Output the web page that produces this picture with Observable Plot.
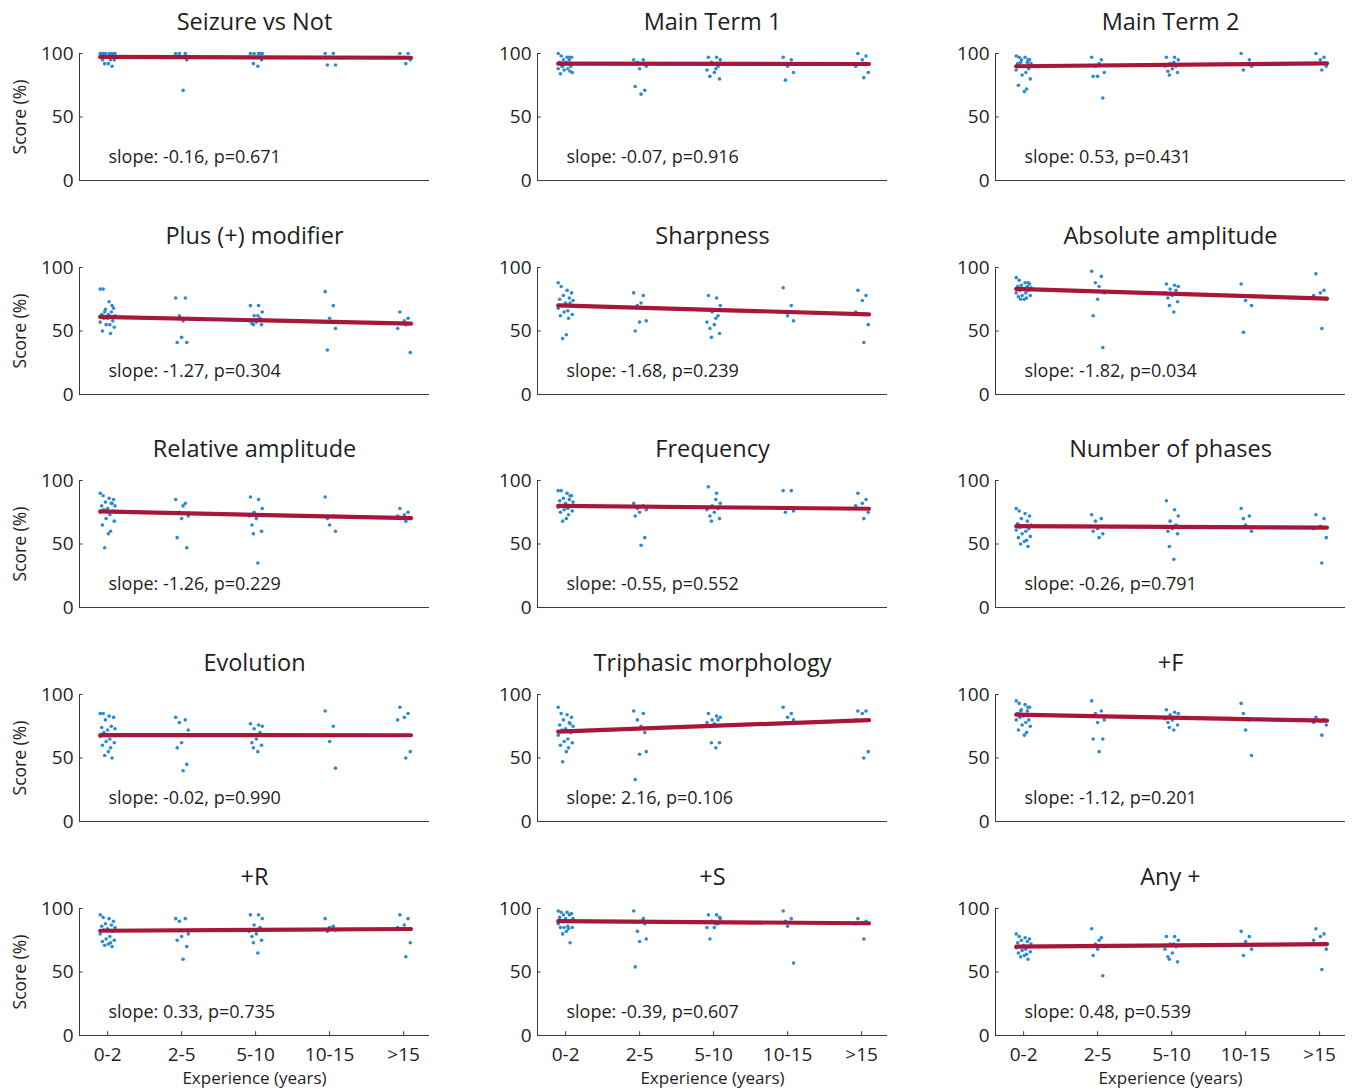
<!DOCTYPE html>
<html>
<head>
<meta charset="utf-8">
<script src="https://cdn.jsdelivr.net/npm/d3@7"></script>
<script src="https://cdn.jsdelivr.net/npm/@observablehq/plot@0.6"></script>
<style>
  html, body { margin: 0; padding: 0; background: #fff; }
  #chart { position: relative; width: 1352px; height: 1089px; overflow: hidden; font-family: "Open Sans", sans-serif; }
  .panel { position: absolute; }
</style>
</head>
<body>
<div id="chart"></div>
<script>
// ---- categories / labels ----
const categories = ["0-2", "2-5", "5-10", "10-15", ">15"];
const titles = ["Seizure vs Not", "Main Term 1", "Main Term 2",
  "Plus (+) modifier", "Sharpness", "Absolute amplitude",
  "Relative amplitude", "Frequency", "Number of phases",
  "Evolution", "Triphasic morphology", "+F",
  "+R", "+S", "Any +"];
const slopes = [-0.16, -0.07, 0.53, -1.27, -1.68, -1.82, -1.26, -0.55, -0.26, -0.02, 2.16, -1.12, 0.33, -0.39, 0.48];
const pvalues = ["0.671", "0.916", "0.431", "0.304", "0.239", "0.034", "0.229", "0.552", "0.791", "0.990", "0.106", "0.201", "0.735", "0.607", "0.539"];
// regression line value at the first category
const lineStart = [97.3, 92, 90, 61, 70, 83, 75.5, 80, 64, 68, 71, 84, 82.5, 90, 70];
const yTicks = [0, 50, 100];
const xTicks = [1, 2, 3, 4, 5];

// horizontal jitter of each observer within its experience group
const jitter1 = [-0.1, -0.06, 0.02, 0.08, -0.03, 0.05, -0.08, 0.1, 0, -0.05, 0.07, -0.1, 0.03, -0.02, 0.09, -0.07, 0.04, 0.01, -0.04, 0.06];
const jitter2 = [-0.08, 0.05, -0.03, 0.09, 0, -0.06, 0.07, 0.02];
const jitter3 = [-0.07, 0.04, 0.09, -0.02, 0.06, -0.09, 0.01, -0.05, 0.08, -0.03, 0.03];
const jitter4 = [-0.06, 0.05, 0, 0.08, -0.03];
const jitter5 = [-0.05, 0.06, 0.01, -0.08, 0.09, 0.03];
const jitters = [jitter1, jitter2, jitter3, jitter4, jitter5];

// ---- scores (%) per experience group ----
const seizureVsNot = [
  [100,100,100,100,100,100,100,100,97,97,97,97,97,97,95,95,95,92,92,90],
  [100,100,100,97,97,97,95,71],
  [100,100,100,100,100,97,97,97,95,92,90],
  [100,100,97,91,91],
  [100,100,97,97,95,92]];
const mainTerm1 = [
  [100,98,97,97,95,95,93,92,92,90,90,88,88,87,85,84,97,93,90,86],
  [95,95,93,90,88,74,71,68],
  [97,97,95,92,90,87,85,82,80,93,88],
  [97,95,90,85,79],
  [100,98,95,90,85,81]];
const mainTerm2 = [
  [98,97,97,95,95,93,92,92,90,90,88,87,85,83,80,75,72,70,93,95],
  [97,95,90,85,82,82,65,92],
  [97,97,95,92,90,90,88,86,85,83,93],
  [100,95,92,90,87],
  [100,97,95,92,90,87]];
const plusModifier = [
  [83,83,73,68,67,65,63,62,60,60,58,57,55,55,53,50,48,63,65,70],
  [76,76,62,60,45,41,41,58],
  [70,70,65,62,60,58,57,56,55,55,62],
  [81,70,60,52,35],
  [65,60,58,52,33,55]];
const sharpness = [
  [88,85,82,80,78,76,75,74,72,70,70,68,66,65,63,62,60,47,44,72],
  [80,78,70,58,57,50,68,72],
  [78,76,70,65,62,57,55,52,48,45,60],
  [84,70,62,58,65],
  [82,78,74,65,55,41]];
const absoluteAmplitude = [
  [92,90,88,87,86,85,85,84,83,82,82,80,80,78,78,77,76,75,75,88],
  [97,93,88,80,75,62,37,85],
  [87,86,85,83,82,80,78,76,73,70,65],
  [87,78,74,70,49],
  [95,82,80,78,75,52]];
const relativeAmplitude = [
  [90,88,86,85,83,82,80,80,78,77,76,75,73,70,68,65,60,58,47,82],
  [85,82,75,72,70,55,47,80],
  [87,85,78,75,73,72,70,65,60,58,35],
  [87,72,65,60,70],
  [78,75,73,72,70,68]];
const frequency = [
  [92,92,90,88,86,85,84,83,82,80,80,79,78,77,76,75,73,70,68,88],
  [82,80,78,77,75,72,55,49],
  [95,90,82,80,78,77,75,72,70,68,85],
  [92,92,78,76,75],
  [90,85,82,80,75,70]];
const numberOfPhases = [
  [78,76,74,72,70,68,66,65,64,63,62,61,60,58,56,55,53,52,50,48],
  [73,70,68,64,62,60,58,55],
  [84,77,72,68,65,63,62,60,58,48,38],
  [78,72,65,60,70],
  [73,70,64,62,55,35]];
const evolution = [
  [85,85,83,82,80,75,74,73,72,70,68,67,65,63,62,60,58,55,52,50],
  [82,80,78,72,62,58,45,40],
  [77,76,75,73,70,68,65,62,60,58,55],
  [87,75,63,42,68],
  [90,85,82,80,55,50]];
const triphasic = [
  [90,85,84,82,80,78,76,75,73,72,70,68,65,63,62,60,58,55,47,77],
  [87,85,80,55,53,33,70,75],
  [85,83,82,80,80,78,77,75,62,62,58],
  [90,85,82,80,78],
  [87,87,85,80,55,50]];
const plusF = [
  [95,93,92,90,88,87,85,84,83,82,80,80,78,76,75,72,70,68,87,90],
  [95,87,85,80,78,65,65,55],
  [88,86,85,84,82,81,80,78,76,74,72],
  [93,80,72,52,85],
  [82,80,79,78,76,68]];
const plusR = [
  [95,93,92,90,88,87,86,85,84,83,82,80,78,76,75,74,73,72,71,70],
  [92,92,90,80,78,75,70,60],
  [95,95,92,87,85,82,80,78,75,73,65],
  [92,86,85,83,82],
  [95,92,87,85,73,62]];
const plusS = [
  [98,97,97,96,95,95,93,92,92,90,90,88,86,85,85,85,84,82,80,73],
  [98,92,82,76,74,54,88,90],
  [95,95,92,90,88,85,85,76,93,90,88],
  [98,92,86,57,90],
  [92,90,89,88,88,76]];
const anyPlus = [
  [80,78,77,76,75,74,73,72,71,70,70,69,68,67,66,65,64,63,62,60],
  [84,77,72,70,68,63,47,75],
  [78,78,75,72,70,68,65,62,58,60,72],
  [82,78,74,68,63],
  [84,80,78,75,68,52]];
const panelScores = [seizureVsNot, mainTerm1, mainTerm2, plusModifier, sharpness, absoluteAmplitude,
  relativeAmplitude, frequency, numberOfPhases, evolution, triphasic, plusF, plusR, plusS, anyPlus];

// ---- layout ----
const axisLeft = [79, 537, 995];
const rowTop = [53, 267, 480, 694, 908];
const plotW = 350, plotH = 127;
const mL = 75, mR = 5, mT = 50;
const xDomain = [0.62, 5.35];
const lineX = [0.9, 5.1];
const blue = "#2a8ad4", red = "#a8163a", axisColor = "#3c3c3c", textColor = "#1e1e1e";

const chart = document.getElementById("chart");
panelScores.forEach((scores, i) => {
  const r = Math.floor(i / 3), c = i % 3;
  const bottom = r === 4;
  const mB = bottom ? 60 : 30;
  const pts = [];
  scores.forEach((vals, g) => vals.forEach((v, k) => pts.push({x: g + 1 + jitters[g][k], y: v})));
  const line = lineX.map(x => ({x, y: lineStart[i] + slopes[i] * (x - 1)}));
  const marks = [
    Plot.ruleX([xDomain[0]], {y1: 0, y2: 100, stroke: axisColor, strokeWidth: 1}),
    Plot.ruleY([0], {x1: xDomain[0], x2: xDomain[1], stroke: axisColor, strokeWidth: 1}),
    Plot.ruleY(yTicks, {x1: xDomain[0], x2: xDomain[0] + 0.05, stroke: axisColor}),
    Plot.text(yTicks, {x: xDomain[0], y: d => d, dx: -6, textAnchor: "end", lineAnchor: "middle", fontSize: 19, fill: textColor}),
    Plot.dot(pts, {x: "x", y: "y", r: 1.8, fill: blue, stroke: null}),
    Plot.line(line, {x: "x", y: "y", stroke: red, strokeWidth: 4.2}),
    Plot.text([titles[i]], {frameAnchor: "top", dy: -31, lineAnchor: "middle", fontSize: 23.5, fill: textColor}),
    Plot.text([`slope: ${slopes[i].toFixed(2)}, p=${pvalues[i]}`], {frameAnchor: "bottom-left", dx: 29, dy: -23, textAnchor: "start", lineAnchor: "middle", fontSize: 18, fill: textColor})
  ];
  if (c === 0) {
    marks.push(Plot.text(["Score (%)"], {frameAnchor: "left", dx: -59, rotate: -90, textAnchor: "middle", lineAnchor: "middle", fontSize: 17.5, fill: textColor}));
  }
  if (bottom) {
    marks.push(Plot.ruleX(xTicks, {y1: 0, y2: 3, stroke: axisColor}));
    marks.push(Plot.text(xTicks, {x: d => d, y: 0, dy: 19, text: d => categories[d - 1], lineAnchor: "middle", fontSize: 19, fill: textColor}));
    marks.push(Plot.text(["Experience (years)"], {frameAnchor: "bottom", dy: 43, lineAnchor: "middle", fontSize: 17, fill: textColor}));
  }
  const svg = Plot.plot({
    width: mL + plotW + mR,
    height: mT + plotH + mB,
    marginLeft: mL, marginRight: mR, marginTop: mT, marginBottom: mB,
    x: {domain: xDomain, axis: null},
    y: {domain: [0, 100], axis: null},
    style: {fontFamily: "'Open Sans', sans-serif", color: textColor, background: "transparent", overflow: "visible"},
    marks
  });
  const div = document.createElement("div");
  div.className = "panel";
  div.style.left = (axisLeft[c] - mL) + "px";
  div.style.top = (rowTop[r] - mT) + "px";
  div.appendChild(svg);
  chart.appendChild(div);
});
</script>
</body>
</html>
